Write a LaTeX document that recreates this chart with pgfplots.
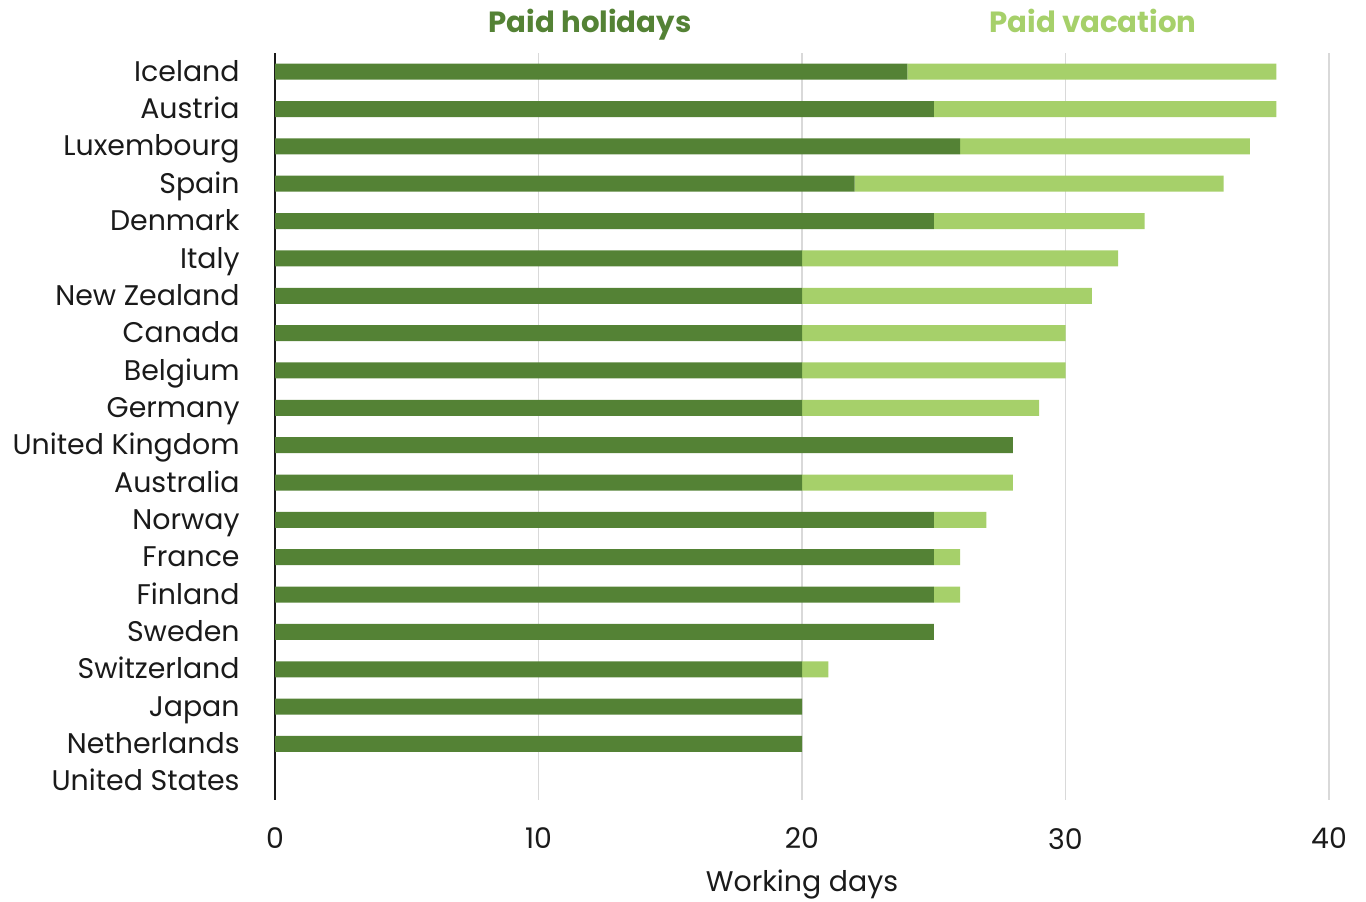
\documentclass[border=0pt]{standalone}
\usepackage{fontspec}
\setmainfont{Poppins}
\usepackage{pgfplots}
\pgfplotsset{compat=1.18}
\definecolor{holiday}{HTML}{548235}
\definecolor{vacation}{HTML}{A6D06A}
\definecolor{gridgray}{HTML}{D9D9D9}
\definecolor{txt}{HTML}{1A1A1A}

% Paid holidays and paid vacation per country, in working days
\pgfplotsset{every axis/.append style={font=\fontsize{14.2pt}{16pt}\selectfont}}
\begin{document}
\begin{tikzpicture}
\path[use as bounding box] (0pt,0pt) rectangle (683pt,450.5pt);
\begin{axis}[
  at={(137.5pt,50.5pt)}, anchor=south west,
  scale only axis, width=527pt, height=373.5pt,
  xbar stacked, bar width=8pt,
  xmin=0, xmax=40, ymin=-0.5, ymax=19.5,
  y dir=reverse,
  xtick={0,10,20,30,40},
  ytick={0,...,19},
  yticklabels={Iceland,Austria,Luxembourg,Spain,Denmark,Italy,New Zealand,Canada,Belgium,Germany,United Kingdom,Australia,Norway,France,Finland,Sweden,Switzerland,Japan,Netherlands,United States},
  /pgf/number format/assume math mode=true,
  xmajorgrids, grid style={gridgray, line width=0.9pt},
  major tick length=0pt,
  axis y line*=left, axis x line*=bottom,
  x axis line style={draw=none},
  y axis line style={txt, line width=0.75pt, -},
  tick label style={txt},
  yticklabel style={anchor=east, text height=0.8em, text depth=0.1em, inner sep=0pt, xshift=-17.5pt, yshift=-1.3pt},
  xticklabel style={yshift=-10.5pt},
  xlabel={Working days}, xlabel style={txt, yshift=-3.5pt},
]
\addplot[fill=holiday, draw=none] coordinates {
(24,0) (25,1) (26,2) (22,3) (25,4) (20,5) (20,6) (20,7) (20,8) (20,9)
(28,10) (20,11) (25,12) (25,13) (25,14) (25,15) (20,16) (20,17) (20,18) (0,19)};
\addplot[fill=vacation, draw=none] coordinates {
(14,0) (13,1) (11,2) (14,3) (8,4) (12,5) (11,6) (10,7) (10,8) (9,9)
(0,10) (8,11) (2,12) (1,13) (1,14) (0,15) (1,16) (0,17) (0,18) (0,19)};
\end{axis}
\node[anchor=base, font=\fontsize{14.6pt}{16pt}\selectfont\bfseries, text=holiday] at (295pt,434pt) {Paid holidays};
\node[anchor=base, font=\fontsize{14.6pt}{16pt}\selectfont\bfseries, text=vacation] at (546.5pt,434pt) {Paid vacation};
\end{tikzpicture}
\end{document}
